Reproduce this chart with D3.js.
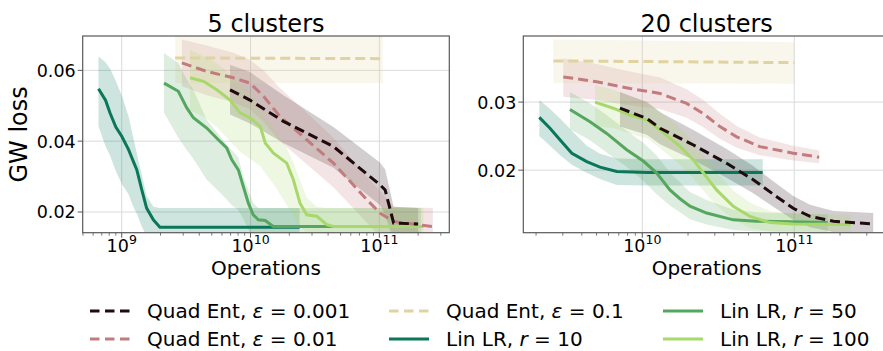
<!DOCTYPE html>
<html>
<head>
<meta charset="utf-8">
<script src="https://cdn.jsdelivr.net/npm/d3@7"></script>
<style>
	body{margin:0;background:#fff;}
	svg{display:block;font-family:"DejaVu Sans",sans-serif;}
</style>
</head>
<body>
<svg id="chart" width="883" height="351"></svg>
<script>
// legend order (column by column)
const seriesKeys = ["quad001", "quad01", "quad1", "lin10", "lin50", "lin100"];
const legendLabels = {
	quad001: ["Quad Ent, ", "ε", " = 0.001"],
	quad01: ["Quad Ent, ", "ε", " = 0.01"],
	quad1: ["Quad Ent, ", "ε", " = 0.1"],
	lin10: ["Lin LR, ", "r", " = 10"],
	lin50: ["Lin LR, ", "r", " = 50"],
	lin100: ["Lin LR, ", "r", " = 100"]
};
const panelTitles = ["5 clusters", "20 clusters"];
const xTicks5 = [1e9, 1e10, 1e11];
const xTicks20 = [1e10, 1e11];
const yTicks5 = [0.02, 0.04, 0.06];
const yTicks20 = [0.02, 0.03];

// rows: [operations, GW loss, lower, upper]
const quad001_5 = [
	[6.93e9, 0.0545, 0.0475, 0.0616], [9.9e9, 0.0516, 0.0450, 0.0595],
	[1.8e10, 0.0456, 0.0395, 0.0530], [4.4e10, 0.0385, 0.0325, 0.0440],
	[1.01e11, 0.0277, 0.0220, 0.0340], [1.11e11, 0.0262, 0.0190, 0.0320],
	[1.29e11, 0.0169, 0.0120, 0.0215], [2.0e11, 0.0166, 0.0110, 0.0211]
];
const quad01_5 = [
	[2.93e9, 0.0621, 0.0555, 0.0687], [4.57e9, 0.0597, 0.0530, 0.0670],
	[7.35e9, 0.0579, 0.0510, 0.0650], [9.9e9, 0.0564, 0.0490, 0.0630],
	[1.26e10, 0.0527, 0.0455, 0.0600], [1.69e10, 0.0470, 0.0400, 0.0550],
	[2.73e10, 0.0404, 0.0335, 0.0480], [4.4e10, 0.0338, 0.0270, 0.0410],
	[7.98e10, 0.0235, 0.0170, 0.0300], [1.01e11, 0.0197, 0.0130, 0.0260],
	[1.29e11, 0.0173, 0.0110, 0.0215], [2.6e11, 0.0159, 0.0100, 0.0211]
];
const quad1_5 = [
	[2.6e9, 0.0635, 0.0564, 0.0710], [1.06e11, 0.0633, 0.0564, 0.0710]
];
const lin10_5 = [
	[6.6e8, 0.0548, 0.0442, 0.0640], [7.5e8, 0.0515, 0.0385, 0.0622],
	[8.1e8, 0.0480, 0.0360, 0.0605], [9.0e8, 0.0440, 0.0315, 0.0570],
	[1.0e9, 0.0414, 0.0280, 0.0530], [1.13e9, 0.0376, 0.0250, 0.0470],
	[1.23e9, 0.0343, 0.0215, 0.0410], [1.31e9, 0.0319, 0.0195, 0.0365],
	[1.43e9, 0.0263, 0.0160, 0.0305], [1.56e9, 0.0211, 0.0130, 0.0245],
	[1.76e9, 0.0178, 0.0110, 0.0215], [1.98e9, 0.0157, 0.0100, 0.0211],
	[2.4e10, 0.0157, 0.0100, 0.0211]
];
const lin50_5 = [
	[2.13e9, 0.0564, 0.0480, 0.0649], [2.75e9, 0.0541, 0.0410, 0.0620],
	[3.2e9, 0.0494, 0.0375, 0.0574], [3.6e9, 0.0466, 0.0350, 0.0545],
	[4.57e9, 0.0437, 0.0291, 0.0460], [5.62e9, 0.0404, 0.0260, 0.0420],
	[6.53e9, 0.0381, 0.0235, 0.0390], [7.14e9, 0.0348, 0.0220, 0.0375],
	[8.04e9, 0.0319, 0.0205, 0.0354], [8.79e9, 0.0272, 0.0180, 0.0300],
	[9.62e9, 0.0225, 0.0150, 0.0260], [1.05e10, 0.0192, 0.0130, 0.0225],
	[1.15e10, 0.0178, 0.0120, 0.0211], [1.30e10, 0.0176, 0.0110, 0.0211],
	[1.50e10, 0.0159, 0.0100, 0.0211], [2.1e11, 0.0159, 0.0100, 0.0211]
];
const lin100_5 = [
	[3.39e9, 0.0579, 0.0487, 0.0658], [4.31e9, 0.0569, 0.0470, 0.0640],
	[5.47e9, 0.0545, 0.0440, 0.0620], [6.93e9, 0.0516, 0.0400, 0.0590],
	[8.28e9, 0.0480, 0.0370, 0.0560], [9.9e9, 0.0466, 0.0350, 0.0540],
	[1.19e10, 0.0442, 0.0330, 0.0500], [1.30e10, 0.0395, 0.0310, 0.0470],
	[1.50e10, 0.0367, 0.0280, 0.0440], [1.91e10, 0.0338, 0.0220, 0.0380],
	[2.15e10, 0.0291, 0.0190, 0.0340], [2.42e10, 0.0225, 0.0160, 0.0290],
	[2.73e10, 0.0192, 0.0140, 0.0240], [3.27e10, 0.0188, 0.0120, 0.0215],
	[3.91e10, 0.0164, 0.0110, 0.0211], [4.40e10, 0.0159, 0.0100, 0.0211],
	[2.2e11, 0.0159, 0.0100, 0.0211]
];

const quad001_20 = [
	[7.13e9, 0.0291, 0.0264, 0.0315], [1.07e10, 0.0276, 0.0252, 0.0300],
	[1.31e10, 0.02615, 0.0238, 0.0285], [2.17e10, 0.0237, 0.0215, 0.0259],
	[3.59e10, 0.0210, 0.0189, 0.0231], [5.37e10, 0.0186, 0.0166, 0.0206],
	[7.66e10, 0.0161, 0.0143, 0.0180], [9.84e10, 0.0144, 0.0127, 0.0162],
	[1.27e11, 0.0132, 0.0116, 0.0149], [1.81e11, 0.0125, 0.0109, 0.0140],
	[3.31e11, 0.0121, 0.0105, 0.0137]
];
const quad01_20 = [
	[3.02e9, 0.0337, 0.0308, 0.0364], [5.01e9, 0.0330, 0.0303, 0.0356],
	[8.3e9, 0.0320, 0.0295, 0.0345], [1.31e10, 0.03127, 0.0290, 0.0336],
	[1.96e10, 0.0298, 0.0277, 0.0319], [2.52e10, 0.0283, 0.0263, 0.0303],
	[3.24e10, 0.0264, 0.0246, 0.0283], [4.18e10, 0.0249, 0.0233, 0.0265],
	[5.94e10, 0.02346, 0.0222, 0.0248], [9.84e10, 0.02249, 0.0214, 0.0236],
	[1.46e11, 0.0219, 0.0210, 0.0229]
];
const quad1_20 = [
	[2.6e9, 0.03605, 0.0328, 0.0392], [1.0e11, 0.0358, 0.0327, 0.0388]
];
const lin10_20 = [
	[2.1e9, 0.02776, 0.0250, 0.0303], [2.47e9, 0.02615, 0.0236, 0.0290],
	[2.88e9, 0.02444, 0.0222, 0.0276], [3.44e9, 0.02249, 0.0208, 0.0258],
	[4.31e9, 0.02126, 0.0196, 0.0236], [5.27e9, 0.02044, 0.0187, 0.0224],
	[6.79e9, 0.0198, 0.0178, 0.0217], [1.07e10, 0.01965, 0.01775, 0.0216],
	[6.2e10, 0.01965, 0.01775, 0.0216]
];
const lin50_20 = [
	[3.34e9, 0.0289, 0.0260, 0.0315], [4.53e9, 0.0271, 0.0244, 0.0298],
	[5.83e9, 0.0254, 0.0226, 0.0281], [7.89e9, 0.0230, 0.0205, 0.0258],
	[1.02e10, 0.0213, 0.0184, 0.0240], [1.24e10, 0.0196, 0.0165, 0.0222],
	[1.52e10, 0.0171, 0.0148, 0.0196], [1.77e10, 0.0158, 0.0138, 0.0182],
	[2.06e10, 0.0147, 0.0128, 0.0168], [2.65e10, 0.0137, 0.0120, 0.0156],
	[3.97e10, 0.0127, 0.0112, 0.0142], [5.66e10, 0.0125, 0.0110, 0.0138],
	[1.66e11, 0.0123, 0.0109, 0.0135]
];
const lin100_20 = [
	[4.89e9, 0.0300, 0.0265, 0.0325], [6.44e9, 0.0291, 0.0262, 0.0318],
	[8.3e9, 0.0281, 0.0254, 0.0308], [1.07e10, 0.0274, 0.0247, 0.0300],
	[1.31e10, 0.0259, 0.0232, 0.0286], [1.77e10, 0.0235, 0.0208, 0.0262],
	[2.17e10, 0.0215, 0.0188, 0.0242], [2.52e10, 0.0196, 0.0170, 0.0222],
	[3.08e10, 0.0171, 0.0148, 0.0196], [3.97e10, 0.0147, 0.0128, 0.0170],
	[5.12e10, 0.0132, 0.0115, 0.0152], [6.92e10, 0.0123, 0.0110, 0.0140],
	[9.84e10, 0.0121, 0.0108, 0.0136], [2.36e11, 0.0120, 0.0107, 0.0134]
];

const styles = {
	quad001: {color: "#1e0a0f", dashed: true},
	quad01: {color: "#c27c7e", dashed: true},
	quad1: {color: "#e0d3a1", dashed: true},
	lin10: {color: "#0b775a", dashed: false},
	lin50: {color: "#55a65f", dashed: false},
	lin100: {color: "#a9d86a", dashed: false}
};
// lines of Lin LR sit below the Quad Ent ones
const drawOrder = ["lin10", "lin50", "lin100", "quad1", "quad01", "quad001"];

const panels = [
	{
		id: "p5", title: panelTitles[0], left: 82.7, right: 449.3, top: 36, bottom: 232.7,
		xDomain: [Math.pow(10, 8.697), Math.pow(10, 11.543)], yDomain: [0.01415, 0.0697],
		xTicks: xTicks5, yTicks: yTicks5, ylabel: "GW loss",
		series: {quad001: quad001_5, quad01: quad01_5, quad1: quad1_5, lin10: lin10_5, lin50: lin50_5, lin100: lin100_5}
	},
	{
		id: "p20", title: panelTitles[1], left: 523.3, right: 890, top: 36, bottom: 232.7,
		xDomain: [Math.pow(10, 9.217), Math.pow(10, 11.63)], yDomain: [0.01081, 0.03971],
		xTicks: xTicks20, yTicks: yTicks20, ylabel: null,
		series: {quad001: quad001_20, quad01: quad01_20, quad1: quad1_20, lin10: lin10_20, lin50: lin50_20, lin100: lin100_20}
	}
];

const svg = d3.select("#chart");
const spineColor = "#595959",
	gridColor = "#dadada";

panels.forEach(drawPanel);
drawLegend();

function drawPanel(p){
	let x = d3.scaleLog().domain(p.xDomain).range([p.left, p.right]),
		y = d3.scaleLinear().domain(p.yDomain).range([p.bottom, p.top]),
		g = svg.append("g").attr("class", "panel");

	svg.append("defs").append("clipPath")
		.attr("id", "clip-" + p.id)
		.append("rect")
		.attr("x", p.left).attr("y", p.top)
		.attr("width", p.right - p.left).attr("height", p.bottom - p.top);

	drawGrid();
	drawSeries();
	drawFrame();
	drawTicks();
	drawLabels();

	function drawGrid(){
		g.selectAll(".vgrid").data(p.xTicks).enter().append("line")
			.attr("x1", d => x(d)).attr("x2", d => x(d))
			.attr("y1", p.top).attr("y2", p.bottom)
			.attr("stroke", gridColor).attr("stroke-width", 1);
		g.selectAll(".hgrid").data(p.yTicks).enter().append("line")
			.attr("x1", p.left).attr("x2", p.right)
			.attr("y1", d => y(d)).attr("y2", d => y(d))
			.attr("stroke", gridColor).attr("stroke-width", 1);
	}

	// bands first, then the mean lines on top
	function drawSeries(){
		let area = d3.area().x(d => x(d[0])).y0(d => y(d[2])).y1(d => y(d[3])),
			line = d3.line().x(d => x(d[0])).y(d => y(d[1])),
			plot = g.append("g").attr("clip-path", "url(#clip-" + p.id + ")");

		seriesKeys.forEach(function(k){
			plot.append("path")
				.attr("d", area(p.series[k]))
				.attr("fill", styles[k].color)
				.attr("fill-opacity", 0.2);
		});
		drawOrder.forEach(function(k){
			plot.append("path")
				.attr("d", line(p.series[k]))
				.attr("fill", "none")
				.attr("stroke", styles[k].color)
				.attr("stroke-width", 3)
				.attr("stroke-dasharray", styles[k].dashed ? "10,5" : null);
		});
	}

	function drawFrame(){
		g.append("rect")
			.attr("x", p.left).attr("y", p.top)
			.attr("width", p.right - p.left).attr("height", p.bottom - p.top)
			.attr("fill", "none").attr("stroke", spineColor).attr("stroke-width", 1.2);
	}

	function drawTicks(){
		let minor = x.ticks().filter(d => Math.abs(Math.log10(d) - Math.round(Math.log10(d))) > 1e-6);
		g.selectAll(".minor").data(minor).enter().append("line")
			.attr("x1", d => x(d)).attr("x2", d => x(d))
			.attr("y1", p.bottom).attr("y2", p.bottom + 3)
			.attr("stroke", spineColor).attr("stroke-width", 0.8);
		g.selectAll(".xmajor").data(p.xTicks).enter().append("line")
			.attr("x1", d => x(d)).attr("x2", d => x(d))
			.attr("y1", p.bottom).attr("y2", p.bottom + 5)
			.attr("stroke", spineColor).attr("stroke-width", 1);
		g.selectAll(".ymajor").data(p.yTicks).enter().append("line")
			.attr("x1", p.left - 5).attr("x2", p.left)
			.attr("y1", d => y(d)).attr("y2", d => y(d))
			.attr("stroke", spineColor).attr("stroke-width", 1);

		// 10^n labels
		let xl = g.selectAll(".xlab").data(p.xTicks).enter().append("text")
			.attr("x", d => x(d)).attr("y", 251.5)
			.attr("text-anchor", "middle")
			.attr("font-size", 17.5).attr("fill", "#000");
		xl.append("tspan").text("10");
		xl.append("tspan").attr("dy", -7.5).attr("font-size", 12.5)
			.text(d => Math.round(Math.log10(d)));

		g.selectAll(".ylab").data(p.yTicks).enter().append("text")
			.attr("x", p.left - 7).attr("y", d => y(d) + 6.5)
			.attr("text-anchor", "end")
			.attr("font-size", 17.5).attr("fill", "#000")
			.text(d => d3.format(".2f")(d));
	}

	function drawLabels(){
		let cx = (p.left + p.right) / 2;
		g.append("text")
			.attr("x", cx).attr("y", 31.5)
			.attr("text-anchor", "middle").attr("font-size", 24)
			.text(p.title);
		g.append("text")
			.attr("x", cx).attr("y", 274.5)
			.attr("text-anchor", "middle").attr("font-size", 20)
			.text("Operations");
		if(p.ylabel){
			g.append("text")
				.attr("transform", "translate(27," + ((p.top + p.bottom) / 2) + ") rotate(-90)")
				.attr("text-anchor", "middle").attr("font-size", 24)
				.text(p.ylabel);
		}
	}
}

//legend with three columns, filled top to bottom
function drawLegend(){
	let colX = [90, 389, 663],
		rowY = [311, 339],
		handleLen = 40,
		lg = svg.append("g").attr("class", "legend");

	seriesKeys.forEach(function(k, i){
		let cx = colX[Math.floor(i / 2)],
			cy = rowY[i % 2],
			label = legendLabels[k];
		lg.append("line")
			.attr("x1", cx).attr("x2", cx + handleLen)
			.attr("y1", cy).attr("y2", cy)
			.attr("stroke", styles[k].color)
			.attr("stroke-width", 3)
			.attr("stroke-dasharray", styles[k].dashed ? "9.5,5.5" : null);
		let t = lg.append("text")
			.attr("x", cx + handleLen + 17).attr("y", cy + 6.5)
			.attr("font-size", 20).attr("fill", "#000");
		t.append("tspan").text(label[0]);
		t.append("tspan").attr("font-style", "italic").text(label[1]);
		t.append("tspan").text(label[2]);
	});
}
</script>
</body>
</html>
